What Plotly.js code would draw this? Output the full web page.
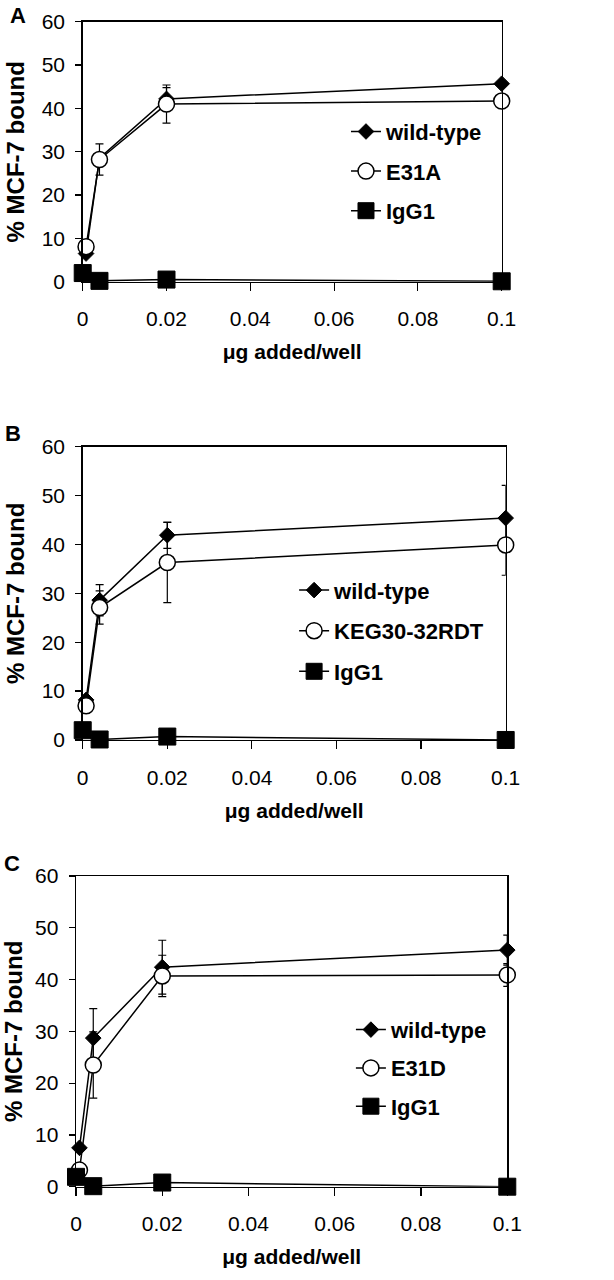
<!DOCTYPE html>
<html>
<head>
<meta charset="utf-8">
<script src="https://cdn.plot.ly/plotly-3.0.1.min.js"></script>
<style>html,body{margin:0;padding:0;background:#fff;}#chart{width:614px;height:1280px;}</style>
</head>
<body>
<div id="chart"></div>
<script>
// ---- data ----
var doseMut = [0.0008, 0.004, 0.02, 0.1];      // µg added/well
var doseIgG = [0, 0.004, 0.02, 0.1];
var xTickVals = [0, 0.02, 0.04, 0.06, 0.08, 0.1];
var xTickText = ['0', '0.02', '0.04', '0.06', '0.08', '0.1'];
var yTickVals = [0, 10, 20, 30, 40, 50, 60];

// Panel A
var wtA = [6.5, 28.5, 42.2, 45.7];
var wtA_err = [0, 0, 2.6, 0];
var e31aA = [8.1, 28.2, 41.0, 41.7];
var e31aA_err = [0, 3.6, 4.4, 0];
var iggA = [2.0, 0.2, 0.5, 0.1];
// Panel B
var wtB = [8.2, 28.6, 41.9, 45.4];
var wtB_err = [0, 3.2, 2.7, 6.7];
var kegB = [7.0, 27.1, 36.3, 39.9];
var kegB_err = [0, 3.4, 8.2, 6.2];
var iggB = [2.0, 0.1, 0.7, 0.0];
// Panel C
var wtC = [7.5, 28.7, 42.4, 45.7];
var wtC_err = [0, 5.7, 5.2, 2.9];
var e31dC = [3.2, 23.5, 40.7, 40.9];
var e31dC_err = [0, 6.4, 4.0, 2.2];
var iggC = [1.9, 0.1, 0.8, 0.0];

var mutNames = ['E31A', 'KEG30-32RDT', 'E31D'];
var panelLetters = ['A', 'B', 'C'];

var FONT = 'Liberation Sans, Arial, sans-serif';

function errObj(arr) {
  return {type: 'data', array: arr, visible: true, color: '#000', thickness: 1.2, width: 4};
}
function wtTrace(y, err, ax, leg) {
  return {x: doseMut, y: y, type: 'scatter', mode: 'lines+markers', name: 'wild-type',
    xaxis: 'x' + ax, yaxis: 'y' + ax, legend: leg, legendgroup: 'wt' + ax, cliponaxis: false,
    line: {color: '#000', width: 1.5},
    marker: {symbol: 'diamond', size: 12, color: '#000', line: {color: '#000', width: 1}},
    error_y: errObj(err)};
}
function mutTrace(y, err, name, ax, leg) {
  return {x: doseMut, y: y, type: 'scatter', mode: 'lines+markers', name: name,
    xaxis: 'x' + ax, yaxis: 'y' + ax, legend: leg, legendgroup: 'mut' + ax, cliponaxis: false,
    line: {color: '#000', width: 1.5},
    marker: {symbol: 'circle', size: 16, color: '#fff', line: {color: '#000', width: 1.5}},
    error_y: errObj(err)};
}
function iggTrace(y, ax, leg) {
  return {x: doseIgG, y: y, type: 'scatter', mode: 'lines+markers', name: 'IgG1',
    xaxis: 'x' + ax, yaxis: 'y' + ax, legend: leg, legendgroup: 'igg' + ax, cliponaxis: false,
    line: {color: '#000', width: 1.5},
    marker: {symbol: 'square', size: 17, color: '#000', line: {color: '#000', width: 1}}};
}

var data = [
  wtTrace(wtA, wtA_err, '', 'legend'), mutTrace(e31aA, e31aA_err, mutNames[0], '', 'legend'), iggTrace(iggA, '', 'legend'),
  wtTrace(wtB, wtB_err, '2', 'legend2'), mutTrace(kegB, kegB_err, mutNames[1], '2', 'legend2'), iggTrace(iggB, '2', 'legend2'),
  wtTrace(wtC, wtC_err, '3', 'legend3'), mutTrace(e31dC, e31dC_err, mutNames[2], '3', 'legend3'), iggTrace(iggC, '3', 'legend3')
];

function xAx(domain, anchor) {
  return {domain: domain, anchor: anchor, range: [0, 0.1], tickmode: 'array', tickvals: xTickVals, ticktext: xTickText,
    ticks: 'outside', ticklen: 8, tickwidth: 1.2, tickcolor: '#000', showline: true, linecolor: '#000', linewidth: 1.5,
    mirror: true, showgrid: false, zeroline: false, automargin: false, ticklabelstandoff: 10,
    tickfont: {family: FONT, size: 21, color: '#000'},
    title: {text: 'μg added/well', standoff: 15, font: {family: FONT, size: 21, color: '#000', weight: 'bold'}}};
}
function yAx(domain, anchor) {
  return {domain: domain, anchor: anchor, range: [0, 60], tickmode: 'array', tickvals: yTickVals,
    ticks: 'outside', ticklen: 6, tickwidth: 1.2, tickcolor: '#000', showline: true, linecolor: '#000', linewidth: 1.5,
    mirror: true, showgrid: false, zeroline: false, automargin: false, ticklabelstandoff: 6,
    tickfont: {family: FONT, size: 21, color: '#000'},
    title: {text: '% MCF-7 bound', standoff: 10, font: {family: FONT, size: 24, color: '#000', weight: 'bold'}}};
}
function legObj(x, y, gap) {
  return {x: x, y: y, xanchor: 'left', yanchor: 'middle', bgcolor: 'rgba(0,0,0,0)', borderwidth: 0,
    traceorder: 'grouped', tracegroupgap: gap, font: {family: FONT, size: 22, color: '#000', weight: 'bold'}};
}

var layout = {
  width: 614, height: 1280, margin: {l: 0, r: 0, t: 0, b: 0},
  paper_bgcolor: '#fff', plot_bgcolor: '#fff', showlegend: true,
  xaxis: xAx([0.1347, 0.8171], 'y'), yaxis: yAx([0.7799, 0.9830], 'x'),
  xaxis2: xAx([0.1347, 0.8236], 'y2'), yaxis2: yAx([0.4219, 0.6510], 'x2'),
  xaxis3: xAx([0.1238, 0.8262], 'y3'), yaxis3: yAx([0.0729, 0.3156], 'x3'),
  legend: legObj(0.5635, 1 - 171.2 / 1280, 8),
  legend2: legObj(0.4790, 1 - 630.8 / 1280, 9),
  legend3: legObj(0.5715, 1 - 1068.3 / 1280, 6.7),
  annotations: [
    {text: panelLetters[0], x: 18 / 614, y: 1 - 15 / 1280, xref: 'paper', yref: 'paper', showarrow: false, xanchor: 'center', yanchor: 'middle', font: {family: FONT, size: 22, color: '#000', weight: 'bold'}},
    {text: panelLetters[1], x: 13 / 614, y: 1 - 433 / 1280, xref: 'paper', yref: 'paper', showarrow: false, xanchor: 'center', yanchor: 'middle', font: {family: FONT, size: 22, color: '#000', weight: 'bold'}},
    {text: panelLetters[2], x: 12 / 614, y: 1 - 863 / 1280, xref: 'paper', yref: 'paper', showarrow: false, xanchor: 'center', yanchor: 'middle', font: {family: FONT, size: 22, color: '#000', weight: 'bold'}}
  ]
};

Plotly.newPlot('chart', data, layout, {staticPlot: true, displayModeBar: false});
</script>
</body>
</html>
